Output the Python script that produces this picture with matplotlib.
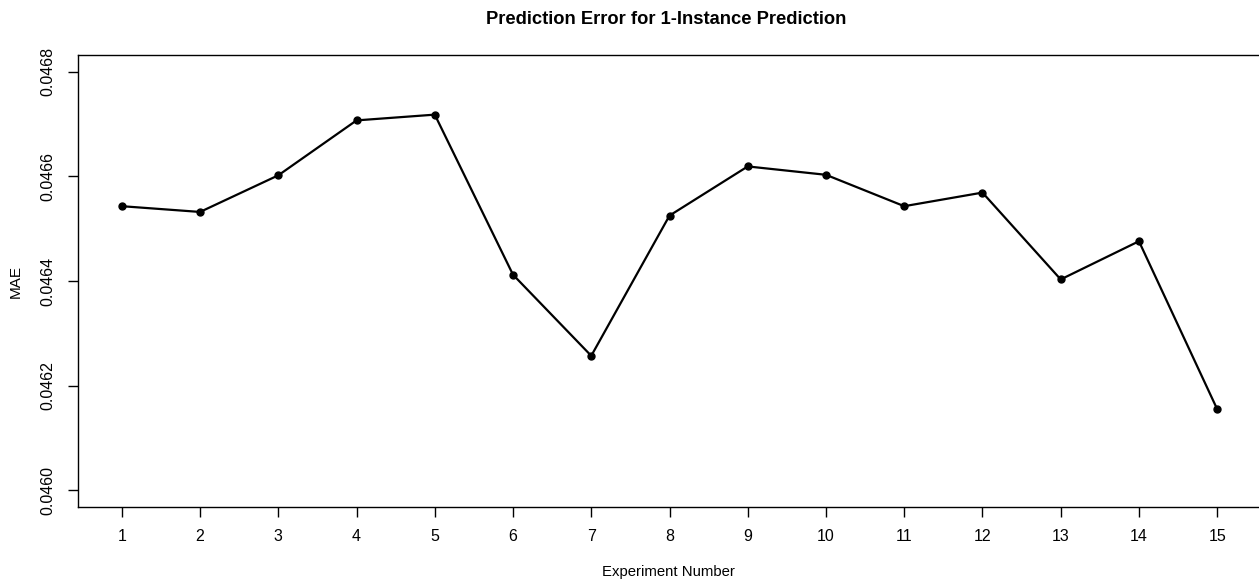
import matplotlib
matplotlib.use('Agg')
from matplotlib import pyplot as pl

experiment = list(range(1, 16))
mae = [0.046543, 0.046532, 0.046602, 0.046707, 0.046718,
       0.046412, 0.046257, 0.046525, 0.046619, 0.046603,
       0.046543, 0.046569, 0.046403, 0.046476, 0.046155]
y_ticks = [0.0460, 0.0462, 0.0464, 0.0466, 0.0468]

pl.rcParams['font.family'] = ['Liberation Sans', 'DejaVu Sans']

W, H = 1259, 581
fig = pl.figure(figsize=(W / 100, H / 100), dpi=100)
# plot region runs slightly past the right edge of the canvas
ax = fig.add_axes([78 / W, 1 - 507 / H, (1261 - 78) / W, (507 - 55) / H])

ax.plot(experiment, mae, color='black', linewidth=1.6,
        marker='o', markersize=5, solid_joinstyle='round')

# R-style 4% padding on both axes
ax.set_xlim(1 - 14 * 0.04, 15 + 14 * 0.04)
ax.set_ylim(0.0460 - 0.0008 * 0.04, 0.0468 + 0.0008 * 0.04)

ax.set_xticks(experiment)
ax.set_xticklabels([str(i) for i in experiment])
ax.set_yticks(y_ticks)
ax.set_yticklabels(['%.4f' % v for v in y_ticks], rotation=90, va='center')

ax.tick_params(direction='out', length=7, width=1, labelsize=11.5,
               pad=9, colors='black')
for s in ax.spines.values():
    s.set_linewidth(1)

fig.text(666 / W, 1 - 19 / H,
         'Prediction Error for 1-Instance Prediction',
         ha='center', va='center', fontsize=13.2, fontweight='bold')
fig.text(668 / W, 1 - 572 / H, 'Experiment Number',
         ha='center', va='center', fontsize=10.7)
fig.text(16 / W, 1 - 281 / H, 'MAE', ha='center', va='center',
         fontsize=11, rotation=90)

fig.savefig('out.png', dpi=100)
